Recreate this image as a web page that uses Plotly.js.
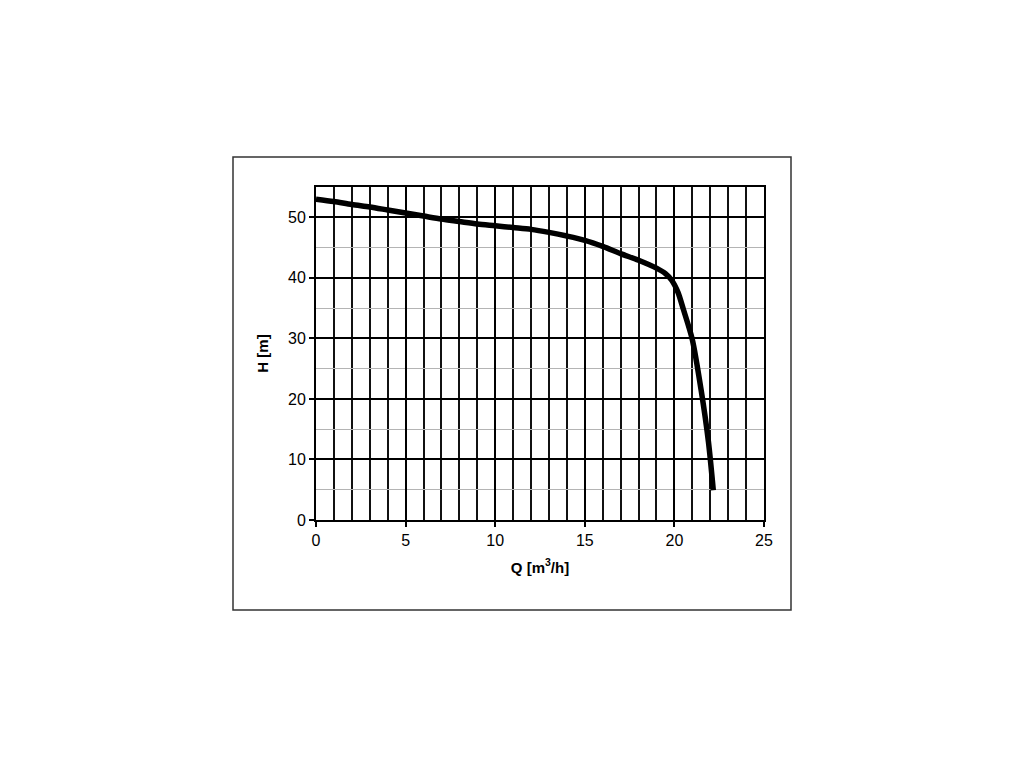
<!DOCTYPE html>
<html>
<head>
<meta charset="utf-8">
<script src="https://cdn.plot.ly/plotly-3.0.1.min.js"></script>
<style>
html,body{margin:0;padding:0;background:#fff;}
#chart{width:1024px;height:768px;}
</style>
</head>
<body>
<div id="chart"></div>
<script>
const flowQ = [0, 1, 2, 3, 4, 5, 6, 7, 8, 9, 10, 11, 12, 13, 14, 15, 16, 17, 18, 19, 19.5, 19.85, 20.2, 20.5, 21, 21.5, 21.9, 22.17];
const headH = [53, 52.6, 52.1, 51.7, 51.2, 50.7, 50.2, 49.7, 49.3, 48.9, 48.6, 48.3, 48.0, 47.5, 46.9, 46.2, 45.2, 44.0, 42.9, 41.6, 40.7, 39.6, 37.6, 34.8, 29.8, 21.3, 12.9, 4.9];
const xTicks = [0, 5, 10, 15, 20, 25];
const yTicks = [0, 10, 20, 30, 40, 50];

const trace = {
  x: flowQ, y: headH, type: 'scatter', mode: 'lines',
  line: {color: '#000', width: 5.5, shape: 'spline', smoothing: 0.8},
  hoverinfo: 'skip'
};

const font = {family: '"Liberation Sans", Arial, sans-serif', size: 16, color: '#000'};
const tfont = {family: '"Liberation Sans", Arial, sans-serif', size: 15, color: '#000'};

const layout = {
  width: 1024, height: 768,
  margin: {l: 316, r: 260, t: 187, b: 248, pad: 0},
  paper_bgcolor: '#fff', plot_bgcolor: '#fff',
  showlegend: false,
  font: font,
  xaxis: {
    range: [0, 25], tickvals: xTicks, ticktext: xTicks.map(String),
    showgrid: true, gridcolor: '#000', gridwidth: 2,
    minor: {dtick: 1, tick0: 0, showgrid: true, gridcolor: '#111', gridwidth: 2, ticks: ''},
    ticks: 'outside', ticklen: 5, tickwidth: 2, tickcolor: '#000',
    showline: true, linecolor: '#000', linewidth: 2, mirror: true,
    zeroline: false, fixedrange: true,
    tickfont: font,
    title: {text: '<b>Q [m<sup>3</sup>/h]</b>', font: tfont, standoff: 14}
  },
  yaxis: {
    range: [0, 55], tickvals: yTicks, ticktext: yTicks.map(String),
    showgrid: true, gridcolor: '#000', gridwidth: 2,
    minor: {dtick: 5, tick0: 0, showgrid: true, gridcolor: '#b4b4b4', gridwidth: 1, ticks: ''},
    ticks: 'outside', ticklen: 5, tickwidth: 2, tickcolor: '#000',
    showline: true, linecolor: '#000', linewidth: 2, mirror: true,
    zeroline: false, fixedrange: true,
    tickfont: font,
    title: {text: '<b>H [m]</b>', font: tfont, standoff: 16}
  },
  shapes: [{
    type: 'rect', xref: 'paper', yref: 'paper',
    x0: (233 - 316) / 448, x1: (791 - 316) / 448,
    y0: (520 - 610) / 333, y1: (520 - 157) / 333,
    line: {color: '#333', width: 1.5}, fillcolor: 'rgba(0,0,0,0)', layer: 'below'
  }]
};

Plotly.newPlot('chart', [trace], layout, {staticPlot: true, displayModeBar: false});
</script>
</body>
</html>
